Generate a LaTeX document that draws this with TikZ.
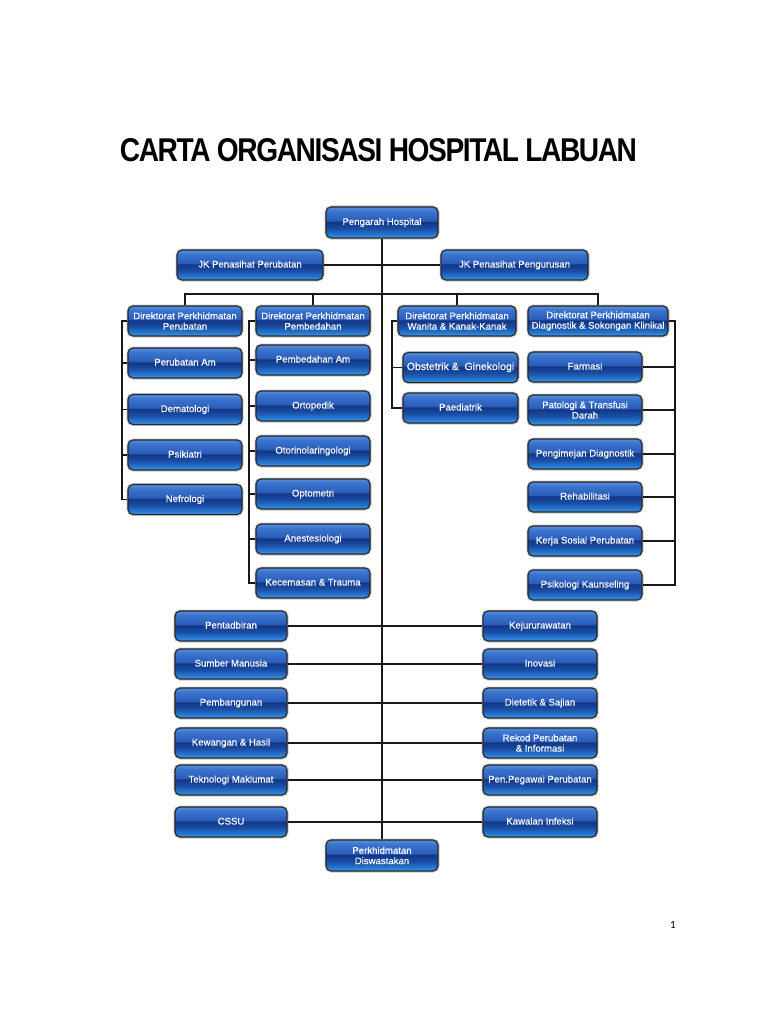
\documentclass[tikz,border=0pt]{standalone}
\usepackage{fontspec}
\usepackage{graphicx}
\setmainfont{Liberation Sans}
\newfontfamily\boxfont{Liberation Sans}[FakeBold=0.35]
\newfontfamily\titlefont{Liberation Sans}[LetterSpace=-5]
\newfontfamily\numfont{Carlito}
\definecolor{gbA}{HTML}{52B2F2}
\definecolor{gbB}{HTML}{2A80D8}
\definecolor{gbC}{HTML}{1A4FA6}
\definecolor{gbD}{HTML}{113684}
\definecolor{gbE}{HTML}{2A5CB8}
\definecolor{gbF}{HTML}{3A74CE}
\definecolor{gbG}{HTML}{568EDC}
\pgfdeclareverticalshading{glossy}{100bp}{color(0bp)=(gbA); color(25bp)=(gbA); color(29bp)=(gbB); color(40bp)=(gbC); color(51bp)=(gbD); color(53bp)=(gbE); color(68bp)=(gbF); color(75bp)=(gbG); color(100bp)=(gbG)}
\tikzset{
  gbase/.style={shading=glossy, draw=black!85, line width=1.1pt, rounded corners=5pt,
    minimum height=30pt, text=white, font=\boxfont\fontsize{9.6}{10.4}\selectfont, align=center,
    inner sep=0.5pt, preaction={draw=black!22, line width=3pt}},
  gbox/.style={gbase, text height=7pt, text depth=2pt},
  gtwo/.style={gbase},
  conn/.style={draw=black!90, line width=1.2pt},
}
\begin{document}
\begin{tikzpicture}[x=1pt,y=-1pt]
\useasboundingbox (0,0) rectangle (768,1024);
\node[inner sep=0pt] (title) at (378.5,150.5) {\resizebox{517pt}{23pt}{\titlefont\bfseries CARTA ORGANISASI HOSPITAL LABUAN}};
\node[font=\numfont\fontsize{11}{12}\selectfont] (pg) at (673,925) {1};

% top
\node[gbox, minimum width=112pt, minimum height=31pt] (ph) at (382,222.5) {Pengarah Hospital};
\node[gbox, minimum width=146pt] (jk1) at (250,265) {JK Penasihat Perubatan};
\node[gbox, minimum width=147pt] (jk2) at (514.5,265) {JK Penasihat Pengurusan};

% directorates
\node[gtwo, minimum width=114pt] (d1) at (185,321) {Direktorat Perkhidmatan\\Perubatan};
\node[gtwo, minimum width=114pt] (d2) at (313,321) {Direktorat Perkhidmatan\\Pembedahan};
\node[gtwo, minimum width=118pt] (d3) at (457,321) {Direktorat Perkhidmatan\\Wanita \& Kanak-Kanak};
\node[gtwo, minimum width=140pt] (d4) at (598,321) {Direktorat Perkhidmatan\\Diagnostik \& Sokongan Klinikal};

% column 1
\node[gbox, minimum width=114pt] (c11) at (185,363) {Perubatan Am};
\node[gbox, minimum width=114pt] (c12) at (185,409.5) {Dematologi};
\node[gbox, minimum width=114pt] (c13) at (185,455) {Psikiatri};
\node[gbox, minimum width=114pt] (c14) at (185,499.5) {Nefrologi};

% column 2
\node[gbox, minimum width=114pt] (c21) at (313,360) {Pembedahan Am};
\node[gbox, minimum width=114pt] (c22) at (313,406) {Ortopedik};
\node[gbox, minimum width=114pt] (c23) at (313,451) {Otorinolaringologi};
\node[gbox, minimum width=114pt] (c24) at (313,494) {Optometri};
\node[gbox, minimum width=114pt] (c25) at (313,539) {Anestesiologi};
\node[gbox, minimum width=114pt] (c26) at (313,583) {Kecemasan \& Trauma};

% column 3
\node[gbox, minimum width=115pt, font=\boxfont\fontsize{10.5}{11}\selectfont] (c31) at (460.5,367.5) {Obstetrik \&\ \ Ginekologi};
\node[gbox, minimum width=115pt] (c32) at (460.5,408) {Paediatrik};

% column 4
\node[gbox, minimum width=114pt] (c41) at (585,367) {Farmasi};
\node[gtwo, minimum width=114pt] (c42) at (585,410) {Patologi \& Transfusi\\Darah};
\node[gbox, minimum width=114pt] (c43) at (585,454) {Pengimejan Diagnostik};
\node[gbox, minimum width=114pt] (c44) at (585,497) {Rehabilitasi};
\node[gbox, minimum width=114pt] (c45) at (585,541) {Kerja Sosial Perubatan};
\node[gbox, minimum width=114pt] (c46) at (585,585) {Psikologi Kaunseling};

% lower left
\node[gbox, minimum width=112pt] (l1) at (231,626) {Pentadbiran};
\node[gbox, minimum width=112pt] (l2) at (231,664) {Sumber Manusia};
\node[gbox, minimum width=112pt] (l3) at (231,703) {Pembangunan};
\node[gbox, minimum width=112pt] (l4) at (231,743) {Kewangan \& Hasil};
\node[gbox, minimum width=112pt] (l5) at (231,780) {Teknologi Maklumat};
\node[gbox, minimum width=112pt] (l6) at (231,822) {CSSU};

% lower right
\node[gbox, minimum width=114pt] (r1) at (540,626) {Kejururawatan};
\node[gbox, minimum width=114pt] (r2) at (540,664) {Inovasi};
\node[gbox, minimum width=114pt] (r3) at (540,703) {Dietetik \& Sajian};
\node[gtwo, minimum width=114pt] (r4) at (540,743) {Rekod Perubatan\\\& Informasi};
\node[gbox, minimum width=114pt] (r5) at (540,780) {Pen.Pegawai Perubatan};
\node[gbox, minimum width=114pt] (r6) at (540,822) {Kawalan Infeksi};

\node[gtwo, minimum width=112pt, minimum height=31pt] (pd) at (382,855.5) {Perkhidmatan\\Diswastakan};

% connectors
\coordinate (bar) at (382,294);
\coordinate (b1) at (122,0);
\coordinate (b2) at (249,0);
\coordinate (b3) at (392,0);
\coordinate (b4) at (675,0);

\draw[conn] (ph.south) -- (pd.north);
\draw[conn] (jk1.east) -- (jk2.west);
\draw[conn] (d1.north) -- (d1.north |- bar) -- (d4.north |- bar) -- (d4.north);
\draw[conn] (d2.north) -- (d2.north |- bar);
\draw[conn] (d3.north) -- (d3.north |- bar);

\draw[conn] (d1.west) -| (b1 |- c14.west) -- (c14.west);
\foreach \n in {c11,c12,c13} \draw[conn] (\n.west) -- (\n.west -| b1);
\draw[conn] (d2.west) -| (b2 |- c26.west) -- (c26.west);
\foreach \n in {c21,c22,c23,c24,c25} \draw[conn] (\n.west) -- (\n.west -| b2);
\draw[conn] (d3.west) -| (b3 |- c32.west) -- (c32.west);
\draw[conn] (c31.west) -- (c31.west -| b3);
\draw[conn] (d4.east) -| (b4 |- c46.east) -- (c46.east);
\foreach \n in {c41,c42,c43,c44,c45} \draw[conn] (\n.east) -- (\n.east -| b4);

\foreach \i in {1,...,6} \draw[conn] (l\i.east) -- (r\i.west);
\end{tikzpicture}
\end{document}
